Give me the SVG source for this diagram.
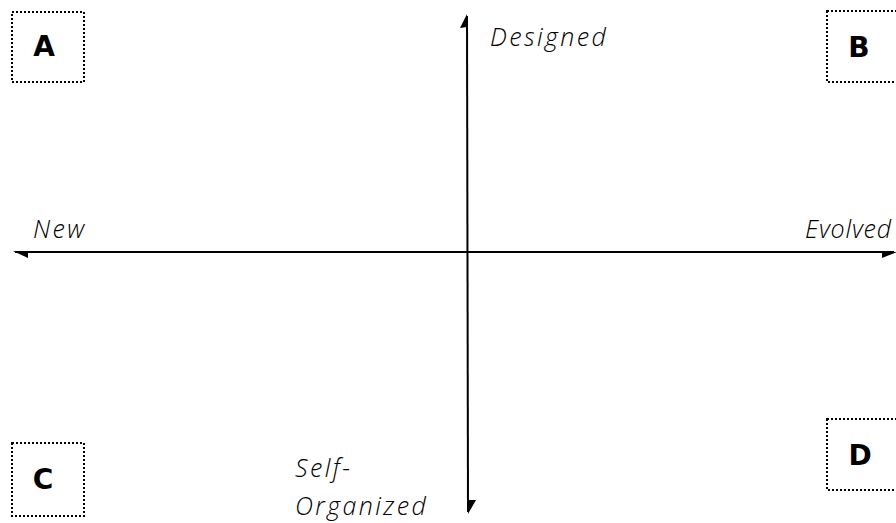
<svg xmlns="http://www.w3.org/2000/svg" width="896" height="523" viewBox="0 0 896 523">
<style>
.box{fill:none;stroke:#000;stroke-width:2;stroke-dasharray:2 2}
.lbl{font-family:"DejaVu Sans",sans-serif;font-weight:bold;font-size:28px;fill:#000;text-anchor:middle}
.ax{font-family:"Open Sans","Noto Sans",sans-serif;font-style:italic;font-weight:300;font-size:25px;letter-spacing:2.4px;fill:#000}
.line{stroke:#000;stroke-width:2;fill:none}
</style>
<rect width="896" height="523" fill="#fff"/>
<g id="connectors">
<line class="line" x1="467" y1="16" x2="468" y2="512"/>
<polygon points="467,14 460,28 467,27" fill="#000"/>
<polygon points="468,514 476,500 468,500" fill="#000"/>
<line class="line" x1="15" y1="252" x2="894" y2="252"/>
<polygon points="13,251 28,251 28,258" fill="#000"/>
<polygon points="882,251 897,252 882,258" fill="#000"/>
</g>
<g id="A"><rect class="box" x="12" y="12" width="72" height="70"/><text class="lbl" x="44" y="56">A</text></g>
<g id="B"><rect class="box" x="827" y="11" width="72" height="71"/><text class="lbl" x="859" y="57">B</text></g>
<g id="C"><rect class="box" x="12" y="443" width="72" height="73"/><text class="lbl" x="43" y="489">C</text></g>
<g id="D"><rect class="box" x="827" y="419" width="72" height="71"/><text class="lbl" x="860" y="465">D</text></g>
<g id="Designed"><text class="ax" x="490" y="46">Designed</text></g>
<g id="New"><text class="ax" x="33" y="238">New</text></g>
<g id="Evolved"><text class="ax" x="805" y="238" style="letter-spacing:0" textLength="86" lengthAdjust="spacing">Evolved</text></g>
<g id="SelfOrganized"><text class="ax" x="295" y="477">Self-</text><text class="ax" x="295" y="515">Organized</text></g>
</svg>
